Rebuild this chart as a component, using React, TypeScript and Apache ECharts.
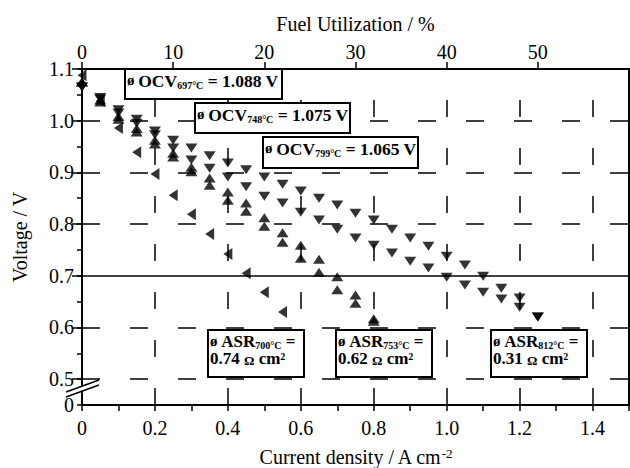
import React, { useEffect, useRef } from 'react';
import * as echarts from 'echarts';

// ---- data ----
const currentDensity697 = [0, 0.05, 0.1, 0.15, 0.2, 0.25, 0.3, 0.35, 0.4, 0.45, 0.5, 0.55];
const voltage697 = [1.088, 1.038, 0.986, 0.939, 0.897, 0.856, 0.819, 0.781, 0.742, 0.705, 0.668, 0.63];

const currentDensity748 = [0, 0.05, 0.1, 0.15, 0.2, 0.25, 0.3, 0.35, 0.4, 0.45, 0.5, 0.55, 0.6, 0.65, 0.7, 0.75, 0.8];
const voltage748a = [1.075, 1.04, 1.008, 0.985, 0.962, 0.937, 0.91, 0.889, 0.862, 0.841, 0.812, 0.783, 0.759, 0.732, 0.698, 0.663, 0.617];
const voltage748b = [1.075, 1.036, 1.003, 0.978, 0.955, 0.93, 0.901, 0.875, 0.846, 0.825, 0.796, 0.765, 0.734, 0.707, 0.673, 0.647, 0.612];

const currentDensity799 = [0, 0.05, 0.1, 0.15, 0.2, 0.25, 0.3, 0.35, 0.4, 0.45, 0.5, 0.55, 0.6, 0.65, 0.7, 0.75, 0.8, 0.85, 0.9, 0.95, 1.0, 1.05, 1.1, 1.15, 1.2, 1.25];
const voltage799a = [1.065, 1.045, 1.021, 1.003, 0.98, 0.962, 0.947, 0.932, 0.918, 0.905, 0.891, 0.877, 0.864, 0.85, 0.837, 0.821, 0.808, 0.79, 0.773, 0.757, 0.738, 0.721, 0.699, 0.676, 0.657, 0.62];
const voltage799b = [1.065, 1.042, 1.015, 0.995, 0.973, 0.947, 0.924, 0.908, 0.891, 0.872, 0.854, 0.841, 0.823, 0.808, 0.79, 0.773, 0.759, 0.744, 0.728, 0.715, 0.697, 0.682, 0.668, 0.655, 0.639, 0.62];

const bottomTicks = [0, 0.2, 0.4, 0.6, 0.8, 1.0, 1.2, 1.4];
const gridLinesX = [0.2, 0.4, 0.6, 0.8, 1.0, 1.2, 1.4];
const gridLinesY = [0.5, 0.6, 0.8, 0.9, 1.0];
const referenceVoltage = 0.7;
const majorVoltageTicks = [0.5, 0.6, 0.7, 0.8, 0.9, 1.0, 1.1];

const ocvLabels = [
  { temp: '697°C', value: '1.088 V' },
  { temp: '748°C', value: '1.075 V' },
  { temp: '799°C', value: '1.065 V' },
];
const asrLabels = [
  { temp: '700°C', value: '0.74' },
  { temp: '753°C', value: '0.62' },
  { temp: '812°C', value: '0.31' },
];

const FONT = 'Liberation Serif';

const pairs = (xs: number[], ys: number[]) => xs.map((x, i) => [x, ys[i]]);

const bold = { fontWeight: 'bold', fontFamily: FONT, fill: '#000' };
const richOcv = {
  s: { ...bold, fontSize: 15, lineHeight: 18, verticalAlign: 'top' },
  m: { ...bold, fontSize: 17.5, lineHeight: 18, verticalAlign: 'top' },
  sub: { ...bold, fontSize: 10, lineHeight: 10, padding: [14, 0, 0, 0], verticalAlign: 'bottom' },
};
const richAsr = {
  s: { ...bold, fontSize: 15, lineHeight: 17, verticalAlign: 'top' },
  m: { ...bold, fontSize: 17, lineHeight: 17, verticalAlign: 'top' },
  sub: { ...bold, fontSize: 10, lineHeight: 10, verticalAlign: 'bottom' },
  m2: { ...bold, fontSize: 17, lineHeight: 17, padding: [6, 0, 0, 0], verticalAlign: 'bottom' },
  om: { ...bold, fontSize: 13, lineHeight: 13, verticalAlign: 'bottom' },
  sup: { ...bold, fontSize: 10, lineHeight: 10, padding: [1, 0, 0, 0], verticalAlign: 'top' },
};

const ocvBoxes = [
  { x: 125, y: 69, w: 157, h: 30 },
  { x: 195, y: 103, w: 155, h: 30 },
  { x: 263, y: 137, w: 155, h: 31 },
];
const asrBoxes = [
  { x: 208, y: 330, w: 96, h: 47 },
  { x: 336, y: 330, w: 96, h: 47 },
  { x: 491, y: 330, w: 96, h: 47 },
];

function buildGraphics() {
  const els: any[] = [];
  ocvBoxes.forEach((b, i) => {
    els.push({
      type: 'rect', z: 100,
      shape: { x: b.x, y: b.y, width: b.w, height: b.h },
      style: { fill: '#fff', stroke: '#000', lineWidth: 2 },
    });
    els.push({
      type: 'text', z: 101, x: b.x + 2, y: b.y + 3,
      style: {
        text: `{s|ø }{m|OCV}{sub|${ocvLabels[i].temp}}{m| = ${ocvLabels[i].value}}`,
        rich: richOcv, verticalAlign: 'top', align: 'left', fill: '#000',
      },
    });
  });
  asrBoxes.forEach((b, i) => {
    els.push({
      type: 'rect', z: 100,
      shape: { x: b.x, y: b.y, width: b.w, height: b.h },
      style: { fill: '#fff', stroke: '#000', lineWidth: 2 },
    });
    els.push({
      type: 'text', z: 101, x: b.x + 2, y: b.y + 3,
      style: {
        text: `{s|ø }{m|ASR}{sub|${asrLabels[i].temp}}{m| =}\n{m2|${asrLabels[i].value} }{om|Ω}{m2| cm}{sup|2}`,
        rich: richAsr, verticalAlign: 'top', align: 'left', fill: '#000',
      },
    });
  });
  // axis break marks
  els.push({
    type: 'polygon', z: 110,
    shape: { points: [[66, 392.5], [99, 380.5], [99, 384.5], [66, 396.5]] },
    style: { fill: '#fff', stroke: null },
  });
  els.push({ type: 'line', z: 111, shape: { x1: 66, y1: 392, x2: 99, y2: 380 }, style: { stroke: '#000', lineWidth: 1.5 } });
  els.push({ type: 'line', z: 111, shape: { x1: 66, y1: 397, x2: 99, y2: 385 }, style: { stroke: '#000', lineWidth: 1.5 } });
  return els;
}

const axisText = { fontFamily: FONT, fontSize: 20, color: '#000' };

const option: any = {
  animation: false,
  backgroundColor: '#fff',
  textStyle: { fontFamily: FONT },
  grid: {
    left: 82, right: 1, top: 69, bottom: 63, show: true, borderColor: '#000', borderWidth: 2,
    backgroundColor: 'transparent', containLabel: false, outerBoundsMode: 'none',
  },
  xAxis: [
    {
      type: 'value', position: 'bottom', min: 0, max: 1.5, interval: 0.1,
      name: '{n|Current density / A cm}{sup|-2}', nameLocation: 'middle', nameGap: 42,
      nameTextStyle: {
        ...axisText,
        rich: {
          n: { fontFamily: FONT, fontSize: 20, color: '#000', lineHeight: 20, padding: [3, 0, 0, 0], verticalAlign: 'bottom' },
          sup: { fontFamily: FONT, fontSize: 13, color: '#000', lineHeight: 13, verticalAlign: 'top' },
        },
      },
      axisLine: { lineStyle: { color: '#000', width: 2 } },
      axisTick: { inside: false, length: 6, lineStyle: { color: '#000', width: 1.5 } },
      axisLabel: {
        ...axisText, margin: 13,
        formatter: (v: number) => {
          const hit = bottomTicks.find((t) => Math.abs(t - v) < 1e-6);
          if (hit === undefined) return '';
          return hit === 0 ? '0' : hit.toFixed(1);
        },
      },
      splitLine: { show: false },
    },
    {
      type: 'value', position: 'top', min: 0, max: 60, interval: 10,
      name: 'Fuel Utilization / %', nameLocation: 'middle', nameGap: 35,
      nameTextStyle: axisText,
      axisLine: { lineStyle: { color: '#000', width: 2 } },
      axisTick: { inside: false, length: 7, lineStyle: { color: '#000', width: 1.5 } },
      axisLabel: { ...axisText, margin: 7, showMaxLabel: false },
      splitLine: { show: false },
    },
  ],
  yAxis: [
    {
      type: 'value', position: 'left', min: 0.45, max: 1.1, interval: 0.05,
      name: 'Voltage / V', nameLocation: 'middle', nameGap: 52, nameRotate: 90,
      nameTextStyle: axisText,
      axisLine: { lineStyle: { color: '#000', width: 2 } },
      axisTick: { inside: false, length: 5, lineStyle: { color: '#000', width: 1.5 } },
      axisLabel: {
        ...axisText, margin: 8, showMinLabel: true, showMaxLabel: true,
        formatter: (v: number) => {
          const k = Math.round(v * 100);
          if (k === 45) return '0';
          return k % 10 === 0 ? v.toFixed(1) : '';
        },
      },
      splitLine: { show: false },
    },
    {
      type: 'value', position: 'left', min: 0.45, max: 1.1,
      axisLine: { show: false },
      axisTick: { show: true, inside: false, length: 10, customValues: majorVoltageTicks, lineStyle: { color: '#000', width: 1.5 } },
      axisLabel: { show: false },
      splitLine: { show: false },
    },
  ],
  series: [
    {
      name: '697°C', type: 'scatter', xAxisIndex: 0, yAxisIndex: 0,
      symbol: 'triangle', symbolSize: [12, 9], symbolRotate: 90,
      itemStyle: { color: '#000' },
      data: pairs(currentDensity697, voltage697),
      markLine: {
        silent: true, symbol: ['none', 'none'], label: { show: false }, animation: false,
        data: [
          ...gridLinesY.map((v) => ({ yAxis: v, lineStyle: { type: [18, 30], width: 1.5, color: '#000' } })),
          { yAxis: referenceVoltage, lineStyle: { type: 'solid', width: 1.5, color: '#000' } },
          ...gridLinesX.map((v) => ({ xAxis: v, lineStyle: { type: [17, 31], width: 1.5, color: '#000' } })),
        ],
      },
    },
    {
      name: '748°C a', type: 'scatter', xAxisIndex: 0, yAxisIndex: 0,
      symbol: 'triangle', symbolSize: [12, 9],
      itemStyle: { color: '#000' },
      data: pairs(currentDensity748, voltage748a),
    },
    {
      name: '748°C b', type: 'scatter', xAxisIndex: 0, yAxisIndex: 0,
      symbol: 'triangle', symbolSize: [12, 9],
      itemStyle: { color: '#000' },
      data: pairs(currentDensity748, voltage748b),
    },
    {
      name: '799°C a', type: 'scatter', xAxisIndex: 0, yAxisIndex: 0,
      symbol: 'triangle', symbolSize: [12, 9], symbolRotate: 180,
      itemStyle: { color: '#000' },
      data: pairs(currentDensity799, voltage799a),
    },
    {
      name: '799°C b', type: 'scatter', xAxisIndex: 0, yAxisIndex: 0,
      symbol: 'triangle', symbolSize: [12, 9], symbolRotate: 180,
      itemStyle: { color: '#000' },
      data: pairs(currentDensity799, voltage799b),
    },
  ],
  graphic: buildGraphics(),
};

export default function App() {
  const ref = useRef<HTMLDivElement>(null);
  useEffect(() => {
    document.body.style.margin = '0';
    const chart = echarts.init(ref.current!, null, { renderer: 'svg' });
    chart.setOption(option);
    return () => chart.dispose();
  }, []);
  return <div ref={ref} style={{ width: 630, height: 468 }} />;
}
